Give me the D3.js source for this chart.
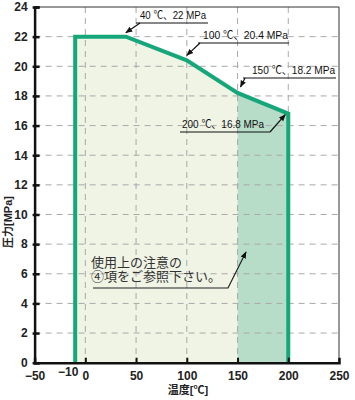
<!DOCTYPE html>
<html>
<head>
<meta charset="utf-8">
<script src="https://cdn.jsdelivr.net/npm/d3@7"></script>
<style>
  body { margin: 0; background: #fff; }
  text { font-family: "Liberation Sans", Arial, "Noto Sans CJK JP", sans-serif; }
</style>
</head>
<body>
<div id="chart-area"></div>
<script>
// pressure limit curve (temp in C, pressure in MPa)
var temps = [-10, -10, 40, 100, 150, 200, 200];
var pressures = [0, 22, 22, 20.4, 18.2, 16.8, 0];

// labelled corner points
var noteTemps = [40, 100, 150, 200];
var notePress = [22, 20.4, 18.2, 16.8];

var xTicks = [-50, 0, 50, 100, 150, 200, 250];
var yTicks = [0, 2, 4, 6, 8, 10, 12, 14, 16, 18, 20, 22, 24];
var extraXLabel = -10;

var xTitle = "温度[℃]";
var yTitle = "圧力[MPa]";
var noteLines = ["使用上の注意の", "④項をご参照下さい。"];

var W = 355, H = 400;
var pLeft = 34.6, pRight = 339, pTop = 7, pBottom = 362.7;

var svg = d3.select("#chart-area").append("svg")
	.attr("width", W)
	.attr("height", H);

var x = d3.scaleLinear().domain([-50, 250]).range([pLeft, pRight]);
var y = d3.scaleLinear().domain([0, 24]).range([pBottom, pTop]);

var pts = temps.map(function(t, i){ return [t, pressures[i]]; });

// light fill under the curve up to 150, darker from 150 to 200
var lightPts = pts.filter(function(d){ return d[0] <= 150; });
lightPts.push([150, 0]);
var darkPts = [[150, 0]].concat(pts.filter(function(d){ return d[0] >= 150; }));

var line = d3.line().x(function(d){ return x(d[0]); }).y(function(d){ return y(d[1]); });

svg.append("path").attr("d", line(lightPts) + "Z").attr("fill", "#eff4e5");
svg.append("path").attr("d", line(darkPts) + "Z").attr("fill", "#b7dcc8");

// grid
svg.append("g").selectAll("line").data(yTicks.slice(1, -1)).enter().append("line")
	.attr("x1", pLeft).attr("x2", pRight)
	.attr("y1", function(d){ return y(d); }).attr("y2", function(d){ return y(d); })
	.attr("stroke", "#a9a9a9").attr("stroke-width", 1).attr("stroke-dasharray", "6,5");
svg.append("g").selectAll("line").data(xTicks.slice(1, -1)).enter().append("line")
	.attr("y1", pTop).attr("y2", pBottom)
	.attr("x1", function(d){ return x(d); }).attr("x2", function(d){ return x(d); })
	.attr("stroke", "#a9a9a9").attr("stroke-width", 1).attr("stroke-dasharray", "6,5");

// frame top/right
svg.append("path")
	.attr("d", "M" + pLeft + "," + pTop + "H" + pRight + "V" + pBottom)
	.attr("fill", "none").attr("stroke", "#333").attr("stroke-width", 1);

// curve
svg.append("path")
	.attr("d", line(pts))
	.attr("fill", "none")
	.attr("stroke", "#15a77a")
	.attr("stroke-width", 4)
	.attr("stroke-linejoin", "miter");

// axes
var xAxis = d3.axisBottom(x).tickValues(xTicks).tickSize(-5).tickPadding(9)
	.tickFormat(function(d){ return d < 0 ? "\u2212" + Math.abs(d) : d; });
var gx = svg.append("g").attr("transform", "translate(0," + pBottom + ")").call(xAxis);
gx.select(".domain").attr("stroke", "#111").attr("stroke-width", 2.5);
gx.selectAll(".tick line").attr("stroke", "#111").attr("stroke-width", 2);
gx.selectAll(".tick").filter(function(d){ return d === -50 || d === 250; }).select("line").remove();
gx.selectAll("text").attr("font-size", 12).attr("font-weight", "bold").attr("fill", "#222");

gx.append("text")
	.attr("x", x(extraXLabel) - 7).attr("y", 13)
	.attr("text-anchor", "middle")
	.attr("font-size", 12).attr("font-weight", "bold").attr("fill", "#222")
	.text("\u2212" + Math.abs(extraXLabel));

var yAxis = d3.axisLeft(y).tickValues(yTicks).tickSize(-5).tickPadding(7);
var gy = svg.append("g").attr("transform", "translate(" + pLeft + ",0)").call(yAxis);
gy.select(".domain").attr("stroke", "#111").attr("stroke-width", 2.5);
gy.selectAll(".tick line").attr("stroke", "#111").attr("stroke-width", 2.5).attr("x1", -2);
gy.selectAll("text").attr("font-size", 12).attr("font-weight", "bold").attr("fill", "#222");

// axis titles
svg.append("text")
	.attr("x", 188).attr("y", 394)
	.attr("text-anchor", "middle")
	.attr("font-size", 11).attr("font-weight", "bold").attr("fill", "#222")
	.text(xTitle);
svg.append("text")
	.attr("transform", "translate(12,222) rotate(-90)")
	.attr("text-anchor", "middle")
	.attr("font-size", 11).attr("font-weight", "bold").attr("fill", "#222")
	.text(yTitle);

// arrowhead
svg.append("defs").append("marker")
	.attr("id", "arr")
	.attr("viewBox", "0 0 10 10")
	.attr("refX", 9).attr("refY", 5)
	.attr("markerWidth", 7).attr("markerHeight", 7)
	.attr("markerUnits", "userSpaceOnUse")
	.attr("orient", "auto")
	.append("path").attr("d", "M0,1L10,5L0,9Z").attr("fill", "#111");

// label layout: text start, baseline, text width, underline span, arrow start, tip offset
var noteLayout = [
	{tx: 140, ty: 19, tw: 66, ux0: 136, ux1: 208, ax: 140, dx: 0, dy: -4},
	{tx: 203, ty: 39, tw: 85, ux0: 198, ux1: 289, ax: 200, dx: 0, dy: -5},
	{tx: 252, ty: 74, tw: 83, ux0: 243, ux1: 336, ax: 245, dx: 3, dy: -6},
	{tx: 182, ty: 128, tw: 82, ux0: 180, ux1: 270, ax: 270, dx: -3, dy: 1}
];

noteTemps.forEach(function(t, i){
	var L = noteLayout[i];
	var g = svg.append("g");
	g.append("text")
		.attr("x", L.tx).attr("y", L.ty)
		.attr("font-size", 11).attr("fill", "#111")
		.attr("textLength", L.tw).attr("lengthAdjust", "spacingAndGlyphs")
		.text(t + " ℃、" + notePress[i] + " MPa");
	g.append("line")
		.attr("x1", L.ux0).attr("x2", L.ux1)
		.attr("y1", L.ty + 4).attr("y2", L.ty + 4)
		.attr("stroke", "#111").attr("stroke-width", 1.2);
	g.append("line")
		.attr("x1", L.ax).attr("y1", L.ty + 4)
		.attr("x2", x(t) + L.dx).attr("y2", y(notePress[i]) + L.dy)
		.attr("stroke", "#111").attr("stroke-width", 1.2)
		.attr("marker-end", "url(#arr)");
});

// usage note
var ng = svg.append("g");
ng.selectAll("text").data(noteLines).enter().append("text")
	.attr("x", 91)
	.attr("y", function(d, i){ return 267 + i * 14; })
	.attr("font-size", 13)
	.attr("font-family", "'Noto Sans CJK JP', sans-serif")
	.attr("fill", "#333")
	.text(function(d){ return d; });
ng.append("path")
	.attr("d", "M93,288H228L246,252")
	.attr("fill", "none").attr("stroke", "#222").attr("stroke-width", 1.2)
	.attr("marker-end", "url(#arr)");
</script>
</body>
</html>
